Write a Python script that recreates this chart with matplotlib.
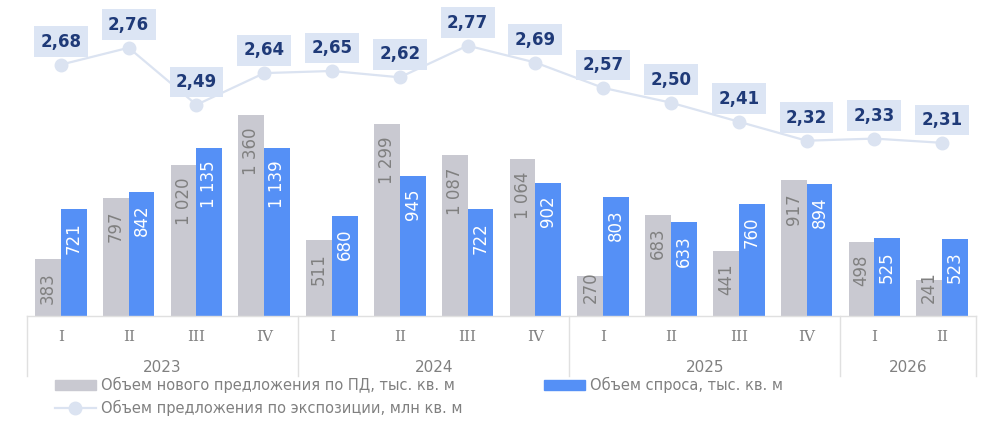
import matplotlib
matplotlib.use('Agg')
import matplotlib.pyplot as plt
from matplotlib.transforms import blended_transform_factory
from matplotlib.patches import Patch
from matplotlib.lines import Line2D

quarters = ['I', 'II', 'III', 'IV', 'I', 'II', 'III', 'IV', 'I', 'II', 'III', 'IV', 'I', 'II']
years = ['2023', '2024', '2025', '2026']
year_spans = [(0, 3), (4, 7), (8, 11), (12, 13)]
new_supply = [383, 797, 1020, 1360, 511, 1299, 1087, 1064, 270, 683, 441, 917, 498, 241]
demand = [721, 842, 1135, 1139, 680, 945, 722, 902, 803, 633, 760, 894, 525, 523]
exposure = [2.68, 2.76, 2.49, 2.64, 2.65, 2.62, 2.77, 2.69, 2.57, 2.50, 2.41, 2.32, 2.33, 2.31]

series_names = ['Объем нового предложения по ПД, тыс. кв. м',
                'Объем спроса, тыс. кв. м',
                'Объем предложения по экспозиции, млн кв. м']

GRAY = '#c9c9d1'
BLUE = '#5590f6'
LINEC = '#dbe3f1'
BOXC = '#dce5f4'
NAVY = '#1f3a78'
TXT = '#808080'

plt.rcParams['font.family'] = ['DejaVu Sans']

W, H = 1001, 432
fig = plt.figure(figsize=(W / 100, H / 100), dpi=100)
ax_l, ax_r, ax_b, ax_t = 27, 976, 316, 20
ax = fig.add_axes([ax_l / W, 1 - ax_b / H, (ax_r - ax_l) / W, (ax_b - ax_t) / H])
ax_h = ax_b - ax_t

n = len(quarters)
x = list(range(n))
bw = 0.38
ax.bar([i - bw / 2 for i in x], new_supply, width=bw, color=GRAY, zorder=2)
ax.bar([i + bw / 2 for i in x], demand, width=bw, color=BLUE, zorder=2)
ax.set_xlim(-0.5, n - 0.5)
ax.set_ylim(0, 2003)

def fmt(v):
    return f"{v:,}".replace(',', ' ')

def bar_label(xc, v, color):
    if v < 300:
        # too short for the label to fit below the top: keep it near the base
        ax.annotate(fmt(v), xy=(xc, 0), xytext=(0, 9.5),
                    textcoords='offset points', rotation=90, ha='center', va='bottom',
                    fontsize=12, color=color, zorder=3)
    else:
        ax.annotate(fmt(v), xy=(xc, v), xytext=(0, -9),
                    textcoords='offset points', rotation=90, ha='center', va='top',
                    fontsize=12, color=color, zorder=3)

for i in x:
    bar_label(i - bw / 2, new_supply[i], TXT)
    bar_label(i + bw / 2, demand[i], 'white')

for s in ['top', 'right', 'left']:
    ax.spines[s].set_visible(False)
ax.spines['bottom'].set_color('#e0e0e0')
ax.spines['bottom'].set_linewidth(1)
ax.set_yticks([])
ax.set_xticks([])

tr = blended_transform_factory(ax.transData, ax.transAxes)
sep_bottom = -60 / ax_h
bounds = [-0.5] + [e + 0.5 for (_, e) in year_spans]
for b in bounds:
    ax.plot([b, b], [0, sep_bottom], transform=tr, color='#e0e0e0', lw=1, clip_on=False)

for i, q in enumerate(quarters):
    ax.text(i, -21 / ax_h, q, transform=tr, ha='center', va='center',
            fontsize=11, color=TXT, family='DejaVu Serif')
for yr, (s, e) in zip(years, year_spans):
    ax.text((s + e) / 2, -51 / ax_h, yr, transform=tr, ha='center', va='center',
            fontsize=11, color=TXT)

ax2 = ax.twinx()
ax2.set_ylim(1.4904, 2.8913)
ax2.plot(x, exposure, color=LINEC, lw=1.6, marker='o', markersize=9,
         markerfacecolor=LINEC, markeredgecolor=LINEC, zorder=3)
for i, v in enumerate(exposure):
    ax2.annotate(f"{v:.2f}".replace('.', ','), xy=(i, v), xytext=(0, 16.5),
                 textcoords='offset points', ha='center', va='center',
                 fontsize=12, fontweight='bold', color=NAVY,
                 bbox=dict(boxstyle='square,pad=0.38', fc=BOXC, ec='none'))
ax2.axis('off')

h1 = Patch(color=GRAY)
h2 = Patch(color=BLUE)
h3 = Line2D([], [], color=LINEC, lw=1.6, marker='o', markersize=9,
            markerfacecolor=LINEC, markeredgecolor=LINEC)
leg1 = fig.legend([h1, h3], [series_names[0], series_names[2]],
                  loc='upper left', bbox_to_anchor=(55 / W, 1 - 377 / H),
                  frameon=False, fontsize=10.5, labelcolor=TXT,
                  handlelength=2.8, handleheight=0.7, handletextpad=0.35,
                  labelspacing=0.45, borderpad=0, borderaxespad=0)
leg2 = fig.legend([h2], [series_names[1]],
                  loc='upper left', bbox_to_anchor=(544 / W, 1 - 377 / H),
                  frameon=False, fontsize=10.5, labelcolor=TXT,
                  handlelength=2.8, handleheight=0.7, handletextpad=0.35,
                  borderpad=0, borderaxespad=0)

fig.savefig('out.png', dpi=100)
